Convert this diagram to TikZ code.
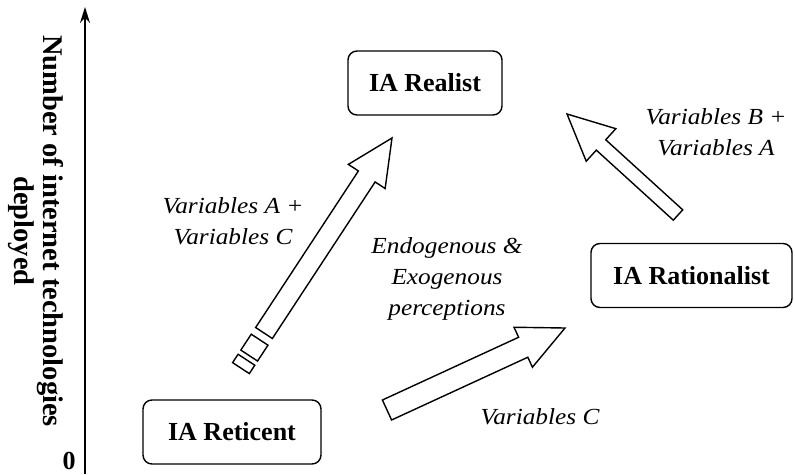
\documentclass[tikz,border=0pt]{standalone}
\usepackage{fontspec}
\setmainfont{Liberation Serif}
\newfontfamily\cuefont[FakeStretch=1.1]{Liberation Serif}
\usetikzlibrary{calc,arrows.meta}

% Outlined block arrow: #1 tail, #2 tip, #3 half shaft width, #4 half head width, #5 head length
\newcommand\blockarrow[5]{%
  \coordinate (ba-h) at ($(#2)!#5!(#1)$);
  \draw[blk] ($(#1)!#3!90:(#2)$) -- ($(ba-h)!#3!-90:(#1)$) -- ($(ba-h)!#4!-90:(#1)$)
    -- (#2) -- ($(ba-h)!#4!90:(#1)$) -- ($(ba-h)!#3!90:(#1)$) -- ($(#1)!#3!-90:(#2)$) -- cycle;}

% Broken piece of a shaft behind tail #1 (direction of #2), from distance #3 to #4
\newcommand\blockpiece[4]{%
  \coordinate (bp-a) at ($(#1)!-#3!(#2)$);
  \coordinate (bp-b) at ($(#1)!-#4!(#2)$);
  \draw[blk] ($(bp-a)!10pt!90:(bp-b)$) -- ($(bp-b)!10pt!-90:(bp-a)$)
    -- ($(bp-b)!10pt!90:(bp-a)$) -- ($(bp-a)!10pt!-90:(bp-b)$) -- cycle;}

\begin{document}
\begin{tikzpicture}[x=1pt,y=-1pt,
  stage/.style={draw,line width=1.4pt,rounded corners=9pt,minimum height=64pt,
    font=\fontsize{26}{30}\selectfont\bfseries,inner xsep=0pt},
  cue/.style={font=\cuefont\fontsize{23}{31}\selectfont\itshape,align=center,inner sep=0pt},
  blk/.style={draw,line width=1.4pt,line join=miter,fill=white}]
\useasboundingbox (0,0) rectangle (795,474);

% vertical axis
\coordinate (ybot) at (85,474);
\coordinate (ytop) at (85,7);
\draw[line width=1.8pt,-{Stealth[length=16pt,width=10pt]}] (ybot) -- (ytop);
\node[rotate=-90,align=center,font=\fontsize{28.5}{29}\selectfont\bfseries] (ylabel) at (36,231)
  {Number of internet technologies\\deployed};
\node[font=\fontsize{26}{30}\selectfont\bfseries,inner sep=0pt] (zero) at (69,461) {0};

% stages
\node[stage,minimum width=154pt] (realist) at (425,83) {IA Realist};
\node[stage,minimum width=201pt] (rational) at (691.5,275.5) {IA Rationalist};
\node[stage,minimum width=178pt] (reticent) at (232,432) {IA Reticent};

% transitions
\coordinate (a1s) at (264,333); \coordinate (a1t) at (392,138);
\coordinate (a2s) at (387,410); \coordinate (a2t) at (565,328);
\coordinate (a3s) at (678,215); \coordinate (a3t) at (567,114);
\blockarrow{a1s}{a1t}{10pt}{22pt}{46pt}
\blockpiece{a1s}{a1t}{8pt}{27pt}
\blockpiece{a1s}{a1t}{32pt}{42pt}
\blockarrow{a2s}{a2t}{11pt}{22pt}{46pt}
\blockarrow{a3s}{a3t}{7pt}{22pt}{46pt}

% labels
\node[cue] (lblAC) at (233,221) {Variables A +\\Variables C};
\node[cue] (lblEE) at (447,279) {Endogenous \&\\Exogenous\\perceptions};
\node[cue] (lblBA) at (716,132) {Variables B +\\Variables A};
\node[cue] (lblC) at (540,417) {Variables C};
\end{tikzpicture}
\end{document}
